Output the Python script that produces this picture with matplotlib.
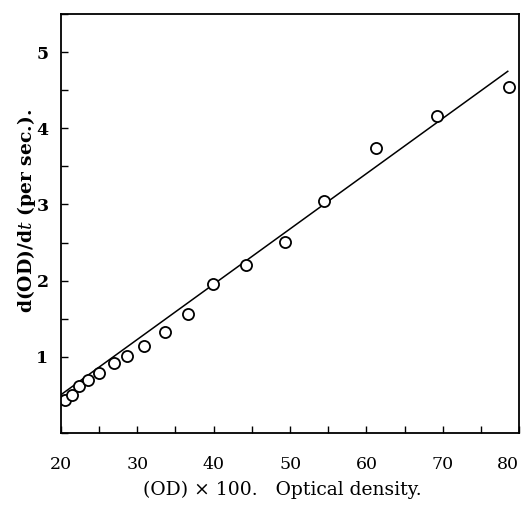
import matplotlib
matplotlib.use("Agg")
import matplotlib.pyplot as plt
from matplotlib.ticker import MultipleLocator

plt.rcParams["font.family"] = "DejaVu Serif"
plt.rcParams["mathtext.fontset"] = "dejavuserif"

# measured points: optical density (x100) vs rate
od = [20.5, 21.4, 22.4, 23.6, 25.0, 26.9, 28.6, 30.9, 33.6, 36.7,
      39.9, 44.2, 49.3, 54.5, 61.2, 69.2, 78.6]
rate = [0.43, 0.50, 0.62, 0.69, 0.79, 0.92, 1.01, 1.14, 1.32, 1.56,
        1.96, 2.20, 2.51, 3.04, 3.74, 4.16, 4.54]

# fitted straight line
fit_od = [20.0, 78.5]
fit_rate = [0.50, 4.75]

x_ticks = [20, 30, 40, 50, 60, 70, 80]
y_ticks = [1, 2, 3, 4, 5]

fig = plt.figure(figsize=(5.25, 5.08), dpi=100)
ax = fig.add_axes([0.116, 0.148, 0.873, 0.824])

ax.plot(fit_od, fit_rate, color="black", lw=1.1)
ax.plot(od, rate, "o", mfc="white", mec="black", ms=8, mew=1.3)

ax.set_xlim(20, 80)
ax.set_ylim(0, 5.5)

ax.set_xticks(x_ticks)
ax.xaxis.set_minor_locator(MultipleLocator(5))
ax.set_yticks(y_ticks)
ax.yaxis.set_minor_locator(MultipleLocator(0.5))

ax.tick_params(which="both", direction="in", length=5, width=1)
ax.tick_params(axis="x", pad=17, labelsize=12.5)
ax.tick_params(axis="y", pad=9, labelsize=12.5)
for lab in ax.get_yticklabels():
    lab.set_fontweight("bold")
# last x label sits flush right so it stays on the page
ax.get_xticklabels()[-1].set_horizontalalignment("right")

for sp in ax.spines.values():
    sp.set_linewidth(1.3)

ax.set_xlabel("(OD) \u00d7 100.   Optical density.", fontsize=13.5, labelpad=4)
ax.xaxis.set_label_coords(0.483, -0.115)
ax.set_ylabel("d(OD)/d$t$ (per sec.).", fontsize=13.5, fontweight="bold")
ax.yaxis.set_label_coords(-0.051, 0.53)

fig.savefig("out.png", dpi=100)
